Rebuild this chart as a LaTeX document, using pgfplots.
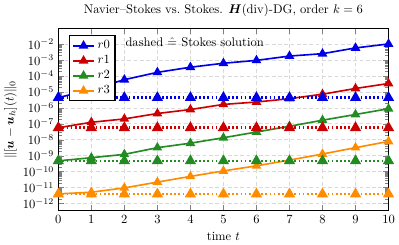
\documentclass[border=0pt]{standalone}
\usepackage{pgfplots}
\pgfplotsset{compat=1.18}
\usepackage{amsmath,bm}
\definecolor{cblue}{RGB}{0,0,230}
\definecolor{cred}{RGB}{204,0,0}
\definecolor{cgreen}{RGB}{34,139,34}
\definecolor{corange}{RGB}{255,140,0}
\begin{document}
\begin{tikzpicture}
\begin{axis}[
  width=263pt, height=145pt, scale only axis,
  ymode=log, xmin=0, xmax=10, ymin=3.5e-13, ymax=9e-2,
  xtick={0,1,2,3,4,5,6,7,8,9,10},
  ytick={1e-12,1e-11,1e-10,1e-9,1e-8,1e-7,1e-6,1e-5,1e-4,1e-3,1e-2},
  grid=major, major grid style={densely dashed, gray!30},
  axis line style={line width=1pt},
  title={Navier--Stokes vs.\ Stokes. $\bm{H}(\mathrm{div})$-DG, order $k=6$},
  xlabel={time $t$},
  ylabel={$\|[\bm{u}-\bm{u}_h](t)\|_0$},
  ylabel style={yshift=-2pt},
  clip=false,
  legend style={at={(0.032,0.965)}, anchor=north west, draw=black, line width=1pt, inner sep=2pt},
  legend cell align=left,
  every axis plot/.append style={line width=1.3pt, mark=triangle*, mark size=3.2pt},
]
\addplot[cblue] coordinates {(0,4.3e-6)(1,1.41e-5)(2,5.75e-5)(3,1.66e-4)(4,3.47e-4)(5,6.17e-4)(6,9.33e-4)(7,1.74e-3)(8,2.45e-3)(9,5.62e-3)(10,1.0e-2)};
\addlegendentry{$r0$}
\addplot[cred] coordinates {(0,5.6e-8)(1,1.23e-7)(2,2.0e-7)(3,4.37e-7)(4,7.76e-7)(5,1.62e-6)(6,2.29e-6)(7,3.72e-6)(8,7.08e-6)(9,1.62e-5)(10,3.31e-5)};
\addlegendentry{$r1$}
\addplot[cgreen] coordinates {(0,4.7e-10)(1,7.4e-10)(2,1.2e-9)(3,3.16e-9)(4,6.03e-9)(5,1.32e-8)(6,3.02e-8)(7,6.92e-8)(8,1.66e-7)(9,3.8e-7)(10,8.7e-7)};
\addlegendentry{$r2$}
\addplot[corange] coordinates {(0,4.0e-12)(1,5.1e-12)(2,9.5e-12)(3,2.19e-11)(4,5.0e-11)(5,1.1e-10)(6,2.29e-10)(7,5.25e-10)(8,1.26e-9)(9,3.16e-9)(10,7.76e-9)};
\addlegendentry{$r3$}
\addplot[cblue, dotted, line width=2pt, mark options={solid}, forget plot] coordinates {(0,4.3e-6)(1,4.3e-6)(2,4.3e-6)(3,4.3e-6)(4,4.3e-6)(5,4.3e-6)(6,4.3e-6)(7,4.3e-6)(8,4.3e-6)(9,4.3e-6)(10,4.3e-6)};
\addplot[cred, dotted, line width=2pt, mark options={solid}, forget plot] coordinates {(0,5.6e-8)(1,5.6e-8)(2,5.6e-8)(3,5.6e-8)(4,5.6e-8)(5,5.6e-8)(6,5.6e-8)(7,5.6e-8)(8,5.6e-8)(9,5.6e-8)(10,5.6e-8)};
\addplot[cgreen, dotted, line width=2pt, mark options={solid}, forget plot] coordinates {(0,4.7e-10)(1,4.7e-10)(2,4.7e-10)(3,4.7e-10)(4,4.7e-10)(5,4.7e-10)(6,4.7e-10)(7,4.7e-10)(8,4.7e-10)(9,4.7e-10)(10,4.7e-10)};
\addplot[corange, dotted, line width=2pt, mark options={solid}, forget plot] coordinates {(0,3.9e-12)(1,3.9e-12)(2,3.9e-12)(3,3.9e-12)(4,3.9e-12)(5,3.9e-12)(6,3.9e-12)(7,3.9e-12)(8,3.9e-12)(9,3.9e-12)(10,3.9e-12)};
\node[anchor=west] at (rel axis cs:0.19,0.925) {dashed $\hat{=}$ Stokes solution};
\end{axis}
\end{tikzpicture}
\end{document}
